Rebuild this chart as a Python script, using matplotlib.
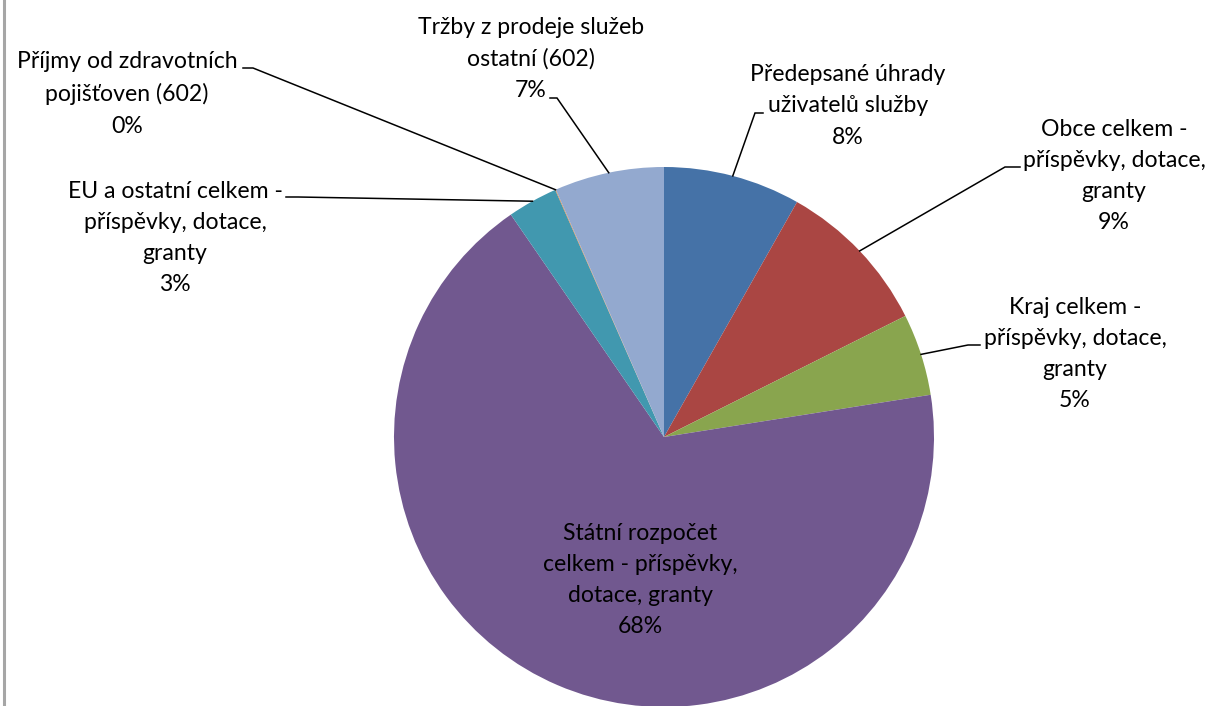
import matplotlib
matplotlib.use("Agg")
import matplotlib.pyplot as plt
import numpy as np

labels = [
    "Předepsané úhrady\nuživatelů služby",
    "Obce celkem -\npříspěvky, dotace,\ngranty",
    "Kraj celkem -\npříspěvky, dotace,\ngranty",
    "Státní rozpočet\ncelkem - příspěvky,\ndotace, granty",
    "EU a ostatní celkem -\npříspěvky, dotace,\ngranty",
    "Příjmy od zdravotních\npojišťoven (602)",
    "Tržby z prodeje služeb\nostatní (602)",
]
values = [8.2, 9.4, 4.9, 67.9, 3.0, 0.04, 6.56]
pct_labels = ["8%", "9%", "5%", "68%", "3%", "0%", "7%"]
colors = ["#4572A7", "#AA4643", "#89A54E", "#71588F", "#4198AF", "#DB843D", "#93A9CF"]

W, H = 1212, 706
fig = plt.figure(figsize=(W / 100, H / 100), dpi=100)
ax = fig.add_axes([0, 0, 1, 1])

cx, cy, R = 664, H - 437, 270
wedges, _ = ax.pie(values, colors=colors, startangle=90, counterclock=False,
                   center=(cx, cy), radius=R, frame=True,
                   wedgeprops=dict(linewidth=0))
ax.set_xlim(0, W)
ax.set_ylim(0, H)
ax.set_aspect("equal")
ax.axis("off")

font = dict(family=["Lato", "DejaVu Sans"], fontsize=16.6, color="black")

# label layout (pixel coords from top): text center, elbow, tick end
layout = [
    dict(t=(848, 106), elbow=(755, 113), tick=(763, 113)),
    dict(t=(1114, 176), elbow=(1005, 167), tick=(1020, 167)),
    dict(t=(1075, 354), elbow=(968, 345), tick=(980, 345)),
    dict(t=(640, 580), elbow=None, tick=None),
    dict(t=(175, 238), elbow=(298, 197), tick=(286, 197)),
    dict(t=(127, 94), elbow=(253, 68), tick=(243, 68)),
    dict(t=(531, 59), elbow=(557, 98), tick=(550, 98)),
]

for w, lab, pct, lay in zip(wedges, labels, pct_labels, layout):
    tx, ty = lay["t"]
    ax.text(tx, H - ty, lab + "\n" + pct, ha="center", va="center",
            multialignment="center", linespacing=1.6, **font)
    if lay["elbow"] is not None:
        ang = np.deg2rad((w.theta1 + w.theta2) / 2)
        px, py = cx + R * np.cos(ang), cy + R * np.sin(ang)
        ex, ey = lay["elbow"]
        kx, ky = lay["tick"]
        ax.plot([px, ex, kx], [py, H - ey, H - ky], color="black", lw=1.1,
                solid_joinstyle="miter")

# chart area border (left edge visible)
ax.plot([4, 4], [0, H], color="#A6A6A6", lw=2.2, clip_on=False)

fig.savefig("out.png", dpi=100)
